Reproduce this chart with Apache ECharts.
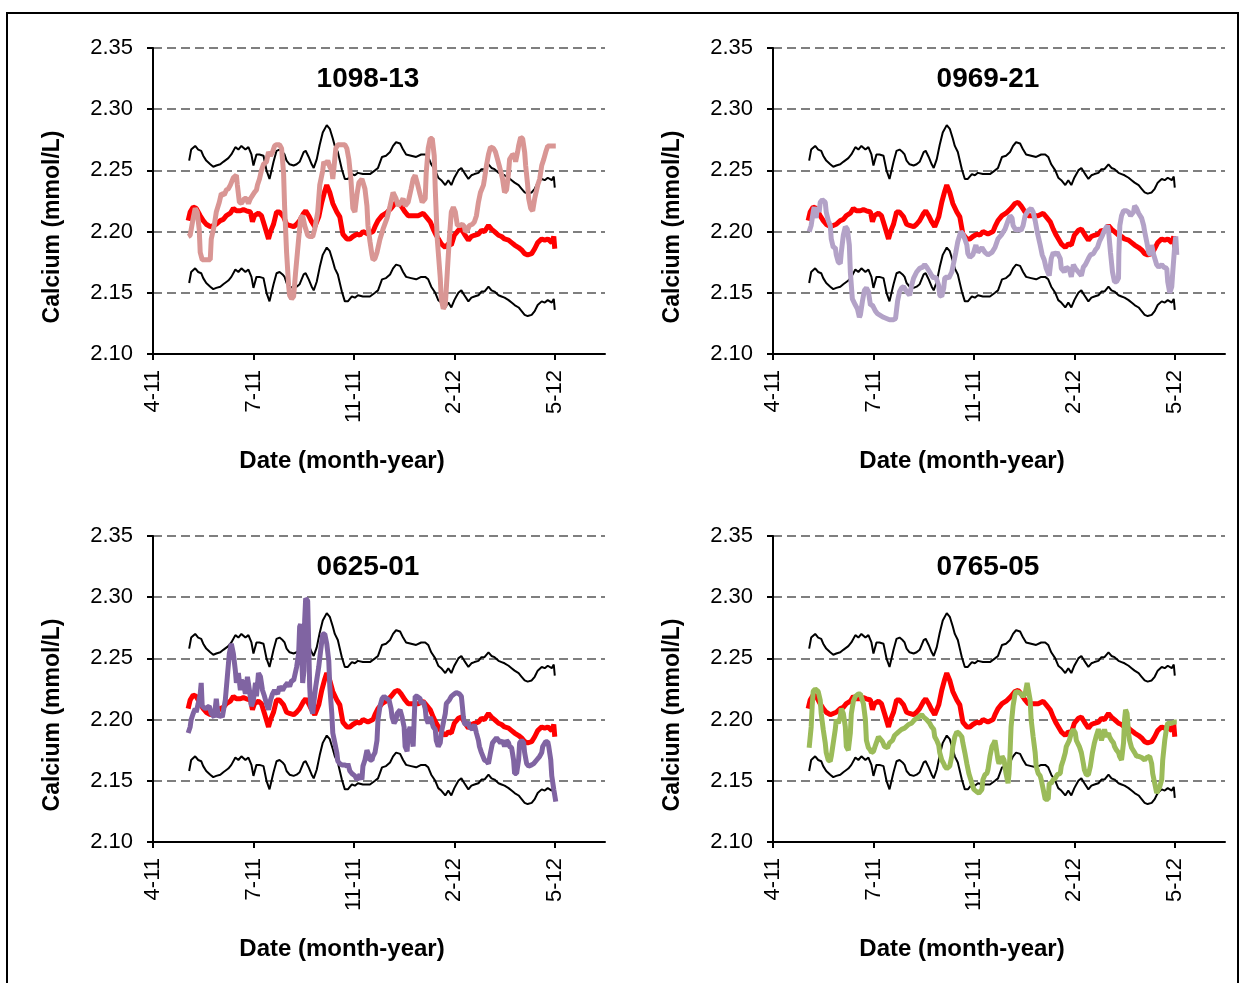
<!DOCTYPE html>
<html>
<head>
<meta charset="utf-8">
<script src="https://cdn.jsdelivr.net/npm/echarts@6/dist/echarts.min.js"></script>
<style>
html,body{margin:0;padding:0;background:#fff;}
#chart{width:1243px;height:983px;}
</style>
</head>
<body>
<div id="chart"></div>
<script>
// ---- tick labels (x = days from axis start) ----
const xTickDays = [0, 100, 200, 300, 400];
const xTickLabels = ['4-11', '7-11', '11-11', '2-12', '5-12'];
const panelTitles = ['1098-13', '0969-21', '0625-01', '0765-05'];
const yAxisTitle = 'Calcium (mmol/L)';
const xAxisTitle = 'Date (month-year)';

// ---- reference band (upper / lower) and mean ----
const upperBound = [[36,2.258],[38,2.267],[42,2.270],[45,2.267],[48,2.266],[50,2.262],[53,2.258],[57,2.255],[60,2.253],[63,2.254],[67,2.255],[70,2.257],[75,2.260],[78,2.263],[82,2.269],[85,2.267],[88,2.270],[92,2.267],[95,2.269],[98,2.263],[100,2.254],[103,2.263],[106,2.263],[110,2.262],[113,2.250],[116,2.243],[118,2.250],[120,2.257],[123,2.266],[126,2.267],[129,2.265],[131,2.263],[133,2.258],[136,2.255],[140,2.254],[143,2.255],[146,2.257],[150,2.265],[152,2.266],[155,2.261],[158,2.255],[160,2.252],[163,2.259],[166,2.271],[169,2.281],[173,2.287],[176,2.284],[179,2.276],[181,2.270],[184,2.265],[188,2.251],[191,2.243],[194,2.243],[198,2.247],[201,2.246],[204,2.248],[209,2.247],[216,2.247],[221,2.250],[224,2.252],[228,2.261],[232,2.262],[236,2.265],[239,2.270],[242,2.273],[246,2.272],[249,2.267],[252,2.263],[257,2.262],[262,2.261],[267,2.263],[271,2.263],[274,2.261],[277,2.255],[281,2.250],[284,2.244],[287,2.242],[291,2.238],[294,2.242],[297,2.238],[300,2.244],[304,2.250],[307,2.252],[310,2.248],[314,2.243],[317,2.246],[320,2.247],[324,2.248],[327,2.251],[330,2.251],[334,2.255],[337,2.252],[340,2.251],[344,2.248],[347,2.247],[350,2.246],[354,2.244],[357,2.242],[360,2.240],[364,2.238],[367,2.235],[370,2.232],[373,2.231],[377,2.232],[380,2.235],[383,2.240],[387,2.243],[390,2.242],[393,2.244],[397,2.242],[399,2.245],[400,2.236]];
const lowerBound = [[36,2.158],[38,2.167],[42,2.170],[45,2.167],[48,2.166],[50,2.162],[53,2.158],[57,2.155],[60,2.153],[63,2.154],[67,2.155],[70,2.157],[75,2.160],[78,2.163],[82,2.169],[85,2.167],[88,2.170],[92,2.167],[95,2.169],[98,2.163],[100,2.154],[103,2.163],[106,2.163],[110,2.162],[113,2.150],[116,2.143],[118,2.150],[120,2.157],[123,2.166],[126,2.167],[129,2.165],[131,2.163],[133,2.158],[136,2.155],[140,2.154],[143,2.155],[146,2.157],[150,2.165],[152,2.166],[155,2.161],[158,2.155],[160,2.152],[163,2.159],[166,2.171],[169,2.181],[173,2.187],[176,2.184],[179,2.176],[181,2.170],[184,2.165],[188,2.151],[191,2.143],[194,2.143],[198,2.147],[201,2.146],[204,2.148],[209,2.147],[216,2.147],[221,2.150],[224,2.152],[228,2.161],[232,2.162],[236,2.165],[239,2.170],[242,2.173],[246,2.172],[249,2.167],[252,2.163],[257,2.162],[262,2.161],[267,2.163],[271,2.163],[274,2.161],[277,2.155],[281,2.150],[284,2.144],[287,2.142],[291,2.138],[294,2.142],[297,2.138],[300,2.144],[304,2.150],[307,2.152],[310,2.148],[314,2.143],[317,2.146],[320,2.147],[324,2.148],[327,2.151],[330,2.151],[334,2.155],[337,2.152],[340,2.151],[344,2.148],[347,2.147],[350,2.146],[354,2.144],[357,2.142],[360,2.140],[364,2.138],[367,2.135],[370,2.132],[373,2.131],[377,2.132],[380,2.135],[383,2.140],[387,2.143],[390,2.142],[393,2.144],[397,2.142],[399,2.145],[400,2.136]];
const meanLine = [[35,2.209],[37,2.216],[40,2.220],[43,2.219],[47,2.213],[50,2.209],[53,2.206],[57,2.204],[60,2.205],[63,2.206],[67,2.209],[70,2.210],[73,2.213],[77,2.215],[80,2.219],[83,2.217],[87,2.217],[90,2.218],[93,2.217],[97,2.216],[99,2.208],[101,2.213],[105,2.215],[108,2.213],[111,2.205],[115,2.194],[117,2.200],[120,2.206],[123,2.216],[126,2.216],[130,2.212],[133,2.206],[136,2.205],[140,2.204],[143,2.206],[146,2.209],[150,2.215],[152,2.217],[155,2.213],[158,2.208],[161,2.204],[165,2.212],[168,2.224],[171,2.233],[173,2.238],[176,2.232],[179,2.223],[183,2.216],[186,2.212],[189,2.198],[193,2.194],[196,2.194],[199,2.196],[203,2.198],[206,2.197],[209,2.200],[214,2.198],[219,2.200],[221,2.204],[224,2.209],[228,2.213],[232,2.215],[237,2.219],[241,2.223],[244,2.224],[247,2.221],[251,2.216],[254,2.213],[259,2.213],[264,2.213],[269,2.215],[272,2.212],[276,2.208],[279,2.202],[282,2.197],[287,2.190],[291,2.187],[294,2.190],[297,2.189],[300,2.197],[304,2.201],[307,2.202],[310,2.198],[314,2.193],[317,2.196],[320,2.197],[324,2.198],[327,2.201],[330,2.200],[334,2.205],[337,2.202],[340,2.200],[344,2.197],[347,2.196],[350,2.194],[354,2.193],[357,2.191],[360,2.189],[364,2.187],[367,2.185],[370,2.182],[373,2.181],[377,2.182],[380,2.186],[383,2.191],[387,2.194],[390,2.193],[393,2.194],[397,2.191],[399,2.196],[400,2.186]];

// ---- patients ----
const patient1098_13 = [[35,2.196],[37,2.197],[40,2.211],[42,2.219],[44,2.216],[46,2.202],[47,2.183],[49,2.177],[53,2.177],[57,2.177],[58,2.194],[61,2.205],[63,2.216],[66,2.224],[68,2.231],[71,2.230],[73,2.234],[75,2.235],[77,2.238],[80,2.244],[83,2.246],[84,2.238],[86,2.224],[88,2.223],[91,2.227],[93,2.227],[95,2.223],[97,2.227],[98,2.228],[101,2.232],[103,2.234],[104,2.238],[106,2.243],[108,2.250],[110,2.255],[111,2.254],[113,2.257],[115,2.265],[117,2.262],[119,2.265],[121,2.270],[123,2.271],[126,2.271],[128,2.268],[130,2.248],[131,2.221],[133,2.183],[135,2.156],[136,2.148],[138,2.145],[140,2.147],[142,2.167],[145,2.194],[147,2.211],[149,2.213],[151,2.205],[154,2.197],[156,2.196],[159,2.196],[161,2.202],[164,2.216],[166,2.238],[169,2.250],[170,2.257],[172,2.255],[174,2.258],[176,2.253],[178,2.250],[179,2.243],[180,2.251],[182,2.268],[184,2.271],[188,2.271],[191,2.271],[193,2.268],[195,2.259],[197,2.243],[199,2.219],[201,2.216],[203,2.230],[205,2.240],[208,2.243],[209,2.243],[211,2.235],[213,2.221],[214,2.205],[216,2.192],[218,2.181],[219,2.177],[221,2.178],[223,2.183],[226,2.194],[229,2.202],[233,2.211],[236,2.221],[239,2.232],[242,2.227],[244,2.221],[247,2.224],[249,2.227],[251,2.221],[254,2.224],[257,2.235],[259,2.243],[261,2.246],[263,2.240],[266,2.230],[268,2.224],[271,2.227],[272,2.248],[274,2.268],[276,2.276],[278,2.276],[280,2.262],[281,2.235],[283,2.194],[286,2.162],[287,2.145],[289,2.137],[291,2.140],[293,2.167],[295,2.194],[297,2.216],[299,2.220],[301,2.216],[303,2.205],[306,2.205],[308,2.206],[310,2.204],[311,2.200],[313,2.201],[315,2.205],[318,2.206],[320,2.208],[322,2.213],[324,2.224],[326,2.232],[329,2.238],[330,2.243],[332,2.254],[334,2.263],[336,2.269],[339,2.268],[341,2.265],[343,2.259],[345,2.253],[348,2.243],[350,2.232],[352,2.234],[354,2.248],[355,2.259],[358,2.263],[360,2.262],[361,2.257],[363,2.265],[364,2.270],[366,2.277],[368,2.276],[370,2.265],[371,2.254],[373,2.238],[374,2.227],[376,2.219],[378,2.217],[380,2.227],[383,2.238],[385,2.243],[387,2.254],[389,2.259],[391,2.265],[393,2.270],[395,2.270],[398,2.270],[401,2.270]];
const patient0969_21 = [[36,2.200],[38,2.205],[40,2.216],[41,2.220],[43,2.211],[44,2.220],[46,2.216],[47,2.224],[49,2.226],[52,2.224],[53,2.216],[55,2.209],[57,2.205],[58,2.194],[60,2.187],[62,2.187],[63,2.181],[65,2.175],[67,2.174],[68,2.183],[70,2.197],[72,2.204],[74,2.202],[76,2.189],[77,2.167],[79,2.145],[82,2.140],[84,2.137],[86,2.130],[87,2.132],[89,2.143],[91,2.152],[93,2.154],[95,2.151],[97,2.140],[99,2.140],[102,2.135],[104,2.133],[106,2.132],[110,2.130],[113,2.129],[116,2.128],[120,2.128],[122,2.129],[124,2.143],[126,2.151],[128,2.154],[130,2.155],[133,2.151],[136,2.148],[138,2.156],[140,2.162],[143,2.167],[146,2.170],[149,2.171],[151,2.173],[153,2.171],[156,2.167],[158,2.164],[160,2.162],[162,2.163],[165,2.156],[166,2.148],[168,2.147],[170,2.154],[171,2.162],[173,2.163],[175,2.162],[178,2.167],[180,2.175],[182,2.183],[184,2.192],[187,2.200],[189,2.198],[191,2.194],[193,2.189],[194,2.182],[196,2.179],[199,2.181],[202,2.189],[204,2.183],[208,2.187],[211,2.183],[214,2.181],[218,2.183],[221,2.187],[224,2.194],[228,2.198],[231,2.202],[234,2.209],[236,2.213],[238,2.211],[239,2.205],[242,2.201],[244,2.202],[247,2.201],[249,2.205],[251,2.213],[254,2.217],[257,2.219],[259,2.216],[261,2.209],[263,2.200],[266,2.189],[268,2.181],[270,2.177],[272,2.170],[275,2.164],[277,2.178],[279,2.183],[281,2.181],[283,2.183],[286,2.178],[287,2.170],[290,2.167],[292,2.171],[295,2.169],[297,2.163],[299,2.173],[301,2.170],[304,2.167],[307,2.164],[309,2.171],[311,2.173],[314,2.178],[316,2.181],[319,2.182],[321,2.185],[323,2.187],[325,2.192],[328,2.197],[330,2.201],[333,2.205],[334,2.201],[336,2.183],[338,2.167],[340,2.159],[342,2.159],[344,2.162],[344.3,2.181],[345.3,2.205],[347,2.213],[349,2.217],[352,2.217],[354,2.216],[356,2.213],[359,2.216],[360,2.221],[362,2.219],[364,2.215],[365,2.216],[367,2.211],[369,2.205],[370,2.200],[372,2.192],[374,2.183],[376,2.181],[377,2.189],[379,2.181],[382,2.173],[384,2.171],[387,2.173],[389,2.171],[392,2.170],[393,2.159],[395,2.150],[397,2.155],[398,2.167],[400,2.189],[401,2.196],[402,2.181]];
const patient0625_01 = [[35,2.189],[37,2.194],[38,2.200],[40,2.205],[42,2.209],[43,2.206],[45,2.213],[47,2.221],[48,2.230],[49,2.211],[52,2.209],[53,2.208],[56,2.211],[58,2.205],[61,2.202],[63,2.217],[65,2.202],[67,2.204],[69,2.202],[72,2.216],[74,2.235],[76,2.254],[78,2.262],[80,2.254],[82,2.240],[83,2.230],[85,2.238],[87,2.224],[88,2.232],[90,2.230],[92,2.221],[94,2.235],[96,2.224],[98,2.211],[100,2.216],[102,2.230],[103,2.219],[105,2.238],[107,2.235],[109,2.224],[111,2.219],[113,2.213],[115,2.208],[117,2.216],[119,2.221],[121,2.224],[124,2.221],[126,2.227],[129,2.224],[131,2.227],[134,2.230],[136,2.227],[138,2.232],[140,2.232],[143,2.243],[145,2.254],[146,2.276],[147,2.278],[148,2.254],[149,2.230],[150.3,2.240],[151,2.281],[152,2.299],[154,2.297],[155,2.262],[156,2.227],[157,2.211],[159,2.205],[160,2.213],[162,2.227],[165,2.243],[167,2.257],[169,2.270],[171,2.270],[173,2.262],[175,2.248],[176,2.227],[178,2.205],[179,2.189],[181,2.181],[183,2.173],[184,2.166],[186,2.164],[188,2.163],[189,2.162],[191,2.163],[193,2.162],[194,2.164],[196,2.158],[198,2.156],[199,2.155],[201,2.154],[203,2.151],[204,2.152],[206,2.155],[208,2.151],[209,2.162],[211,2.167],[213,2.175],[214,2.173],[216,2.167],[218,2.167],[219,2.170],[221,2.173],[223,2.183],[224,2.200],[226,2.211],[228,2.217],[230,2.219],[233,2.217],[235,2.216],[237,2.209],[238,2.202],[240,2.197],[242,2.200],[243,2.205],[246,2.208],[248,2.202],[250,2.194],[251,2.178],[253,2.174],[254,2.189],[256,2.194],[257,2.189],[259,2.178],[260,2.200],[261,2.219],[263,2.219],[266,2.217],[267,2.213],[269,2.215],[271,2.209],[272,2.201],[274,2.197],[276,2.202],[277,2.200],[279,2.194],[281,2.192],[282,2.183],[284,2.178],[286,2.181],[287,2.189],[289,2.197],[291,2.205],[292,2.213],[295,2.216],[297,2.219],[300,2.221],[302,2.222],[305,2.221],[307,2.219],[308,2.211],[309,2.202],[310,2.197],[312,2.196],[314,2.198],[315,2.194],[318,2.192],[320,2.196],[322,2.189],[324,2.183],[325,2.178],[327,2.173],[330,2.167],[332,2.166],[334,2.164],[336,2.173],[338,2.181],[340,2.183],[342,2.185],[344,2.183],[346,2.181],[348,2.183],[350,2.178],[352,2.183],[354,2.181],[355,2.178],[357,2.177],[359,2.167],[360,2.156],[362,2.156],[364,2.167],[365,2.181],[367,2.183],[369,2.181],[370,2.173],[372,2.164],[374,2.162],[377,2.163],[379,2.164],[382,2.167],[383,2.167],[385,2.170],[387,2.173],[388,2.178],[391,2.182],[393,2.182],[394,2.178],[396,2.167],[397,2.154],[399,2.143],[401,2.133]];
const patient0765_05 = [[36,2.177],[38,2.194],[39,2.211],[40,2.223],[42,2.225],[43,2.225],[45,2.223],[47,2.216],[48,2.205],[50,2.192],[52,2.181],[53,2.173],[55,2.167],[57,2.166],[58,2.170],[60,2.181],[62,2.192],[63,2.200],[65,2.197],[67,2.202],[68,2.209],[70,2.205],[72,2.194],[73,2.178],[75,2.175],[77,2.189],[78,2.205],[80,2.215],[82,2.219],[83,2.220],[85,2.221],[87,2.221],[88,2.220],[90,2.213],[92,2.200],[93,2.183],[95,2.177],[97,2.175],[98,2.173],[100,2.174],[102,2.179],[105,2.186],[106,2.185],[109,2.182],[111,2.178],[114,2.177],[116,2.181],[119,2.183],[121,2.187],[125,2.190],[128,2.192],[131,2.193],[135,2.196],[138,2.197],[141,2.200],[145,2.202],[148,2.204],[150,2.202],[153,2.200],[156,2.197],[158,2.194],[160,2.192],[161,2.186],[163,2.183],[165,2.179],[166,2.173],[168,2.167],[170,2.164],[171,2.162],[173,2.160],[174,2.159],[176,2.162],[178,2.170],[179,2.178],[181,2.186],[183,2.190],[185,2.189],[188,2.186],[189,2.181],[191,2.173],[193,2.164],[195,2.156],[198,2.148],[200,2.143],[203,2.141],[205,2.140],[208,2.143],[209,2.151],[211,2.155],[213,2.156],[214,2.159],[216,2.170],[218,2.178],[220,2.181],[221,2.183],[222,2.178],[224,2.167],[225,2.164],[227,2.167],[228,2.170],[230,2.167],[232,2.156],[234,2.148],[235,2.156],[236,2.173],[237,2.194],[239,2.211],[241,2.221],[242,2.223],[245,2.222],[247,2.221],[249,2.219],[251,2.221],[253,2.230],[254,2.231],[256,2.216],[257,2.200],[259,2.186],[261,2.173],[262,2.162],[264,2.156],[266,2.154],[267,2.151],[269,2.143],[271,2.135],[272,2.135],[274,2.135],[275,2.148],[277,2.148],[279,2.151],[281,2.152],[283,2.155],[286,2.156],[287,2.162],[289,2.167],[291,2.173],[292,2.178],[295,2.183],[297,2.189],[299,2.192],[301,2.189],[302,2.183],[305,2.178],[307,2.173],[309,2.164],[310,2.159],[312,2.155],[314,2.155],[316,2.162],[318,2.173],[320,2.181],[322,2.187],[324,2.192],[325,2.190],[327,2.183],[329,2.189],[330,2.192],[332,2.186],[334,2.189],[335,2.186],[337,2.183],[339,2.181],[340,2.178],[342,2.175],[344,2.173],[345,2.170],[347,2.167],[349,2.181],[350,2.200],[351,2.208],[352.5,2.205],[354,2.189],[355,2.183],[357,2.177],[360,2.173],[362,2.170],[364,2.170],[367,2.169],[370,2.167],[372,2.169],[373,2.170],[375,2.170],[377,2.164],[378,2.156],[380,2.148],[382,2.140],[383,2.141],[385,2.145],[387,2.151],[388,2.167],[390,2.183],[392,2.194],[393,2.197],[397,2.197],[400,2.198],[402,2.198]];

const patients = [patient1098_13, patient0969_21, patient0625_01, patient0765_05];
const patientColors = ['#D99694', '#B3A2C7', '#8064A2', '#9BBB59'];

// ---- layout ----
const FONT = '"Liberation Sans", Arial, sans-serif';
const panels = [
  {left: 153, top: 48},
  {left: 773, top: 48},
  {left: 153, top: 536},
  {left: 773, top: 536}
];
const PW = 452, PH = 306;

const grid = [], xAxis = [], yAxis = [], series = [], graphic = [];
panels.forEach((p, i) => {
  grid.push({left: p.left, top: p.top, width: PW, height: PH, containLabel: false});
  xAxis.push({
    type: 'value', gridIndex: i, min: 0, max: 450, interval: 100,
    axisLine: {show: true, onZero: false, lineStyle: {color: '#000', width: 2}},
    axisTick: {show: true, length: 6, customValues: xTickDays, lineStyle: {color: '#000', width: 2}},
    axisLabel: {
      customValues: xTickDays, rotate: 90, margin: 16, color: '#000',
      fontSize: 22, fontFamily: FONT,
      formatter: v => { const k = xTickDays.indexOf(Math.round(v)); return k >= 0 ? xTickLabels[k] : ''; }
    },
    splitLine: {show: false}
  });
  yAxis.push({
    type: 'value', gridIndex: i, min: 2.10, max: 2.35, interval: 0.05,
    axisLine: {show: true, onZero: false, lineStyle: {color: '#000', width: 2}},
    axisTick: {show: true, length: 6, lineStyle: {color: '#000', width: 2}},
    axisLabel: {margin: 20, color: '#000', fontSize: 22, fontFamily: FONT, formatter: v => v.toFixed(2)},
    splitLine: {show: true, lineStyle: {color: '#7F7F7F', width: 2, type: [9, 5]}}
  });
  const common = {type: 'line', smooth: false, xAxisIndex: i, yAxisIndex: i, symbol: 'none', animation: false, silent: true};
  series.push(Object.assign({}, common, {name: 'upper', data: upperBound, lineStyle: {color: '#000', width: 2}, z: 2}));
  series.push(Object.assign({}, common, {name: 'lower', data: lowerBound, lineStyle: {color: '#000', width: 2}, z: 2}));
  series.push(Object.assign({}, common, {name: 'mean', data: meanLine, lineStyle: {color: '#FF0000', width: 5}, z: 3}));
  series.push(Object.assign({}, common, {name: panelTitles[i], data: patients[i], lineStyle: {color: patientColors[i], width: 5}, z: 4}));

  // panel title
  graphic.push({type: 'text', x: p.left + 215, y: p.top + 31, z: 10,
    style: {text: panelTitles[i], font: 'bold 28px ' + FONT, fill: '#000', align: 'center', verticalAlign: 'middle', textAlign: 'center', textVerticalAlign: 'middle'}});
  // y axis title
  graphic.push({type: 'text', x: p.left - 100, y: p.top + 179, rotation: Math.PI / 2, z: 10,
    style: {text: yAxisTitle, font: 'bold 23px ' + FONT, fill: '#000', align: 'center', verticalAlign: 'middle', textAlign: 'center', textVerticalAlign: 'middle'}});
  // x axis title
  graphic.push({type: 'text', x: p.left + 189, y: p.top + 413, z: 10,
    style: {text: xAxisTitle, font: 'bold 24px ' + FONT, fill: '#000', align: 'center', verticalAlign: 'middle', textAlign: 'center', textVerticalAlign: 'middle'}});
});

// outer frame
graphic.push({type: 'rect', shape: {x: 7, y: 13, width: 1231, height: 985}, z: 0,
  style: {fill: 'none', stroke: '#000', lineWidth: 2}});

const chart = echarts.init(document.getElementById('chart'), null, {renderer: 'canvas'});
chart.setOption({
  backgroundColor: '#fff',
  animation: false,
  grid, xAxis, yAxis, series, graphic
});
</script>
</body>
</html>
